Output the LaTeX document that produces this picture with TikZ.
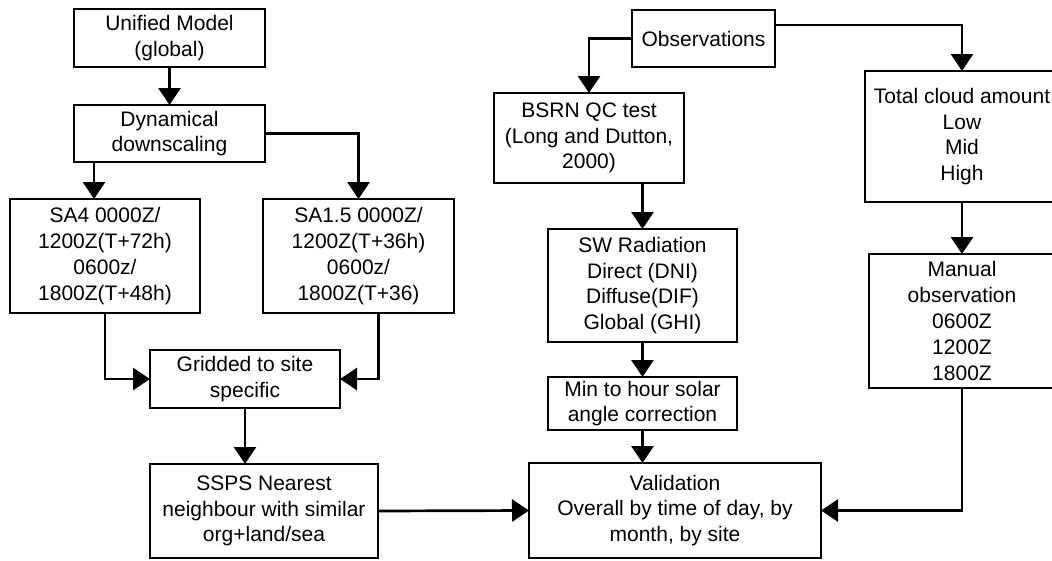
\documentclass[tikz,border=0pt]{standalone}
\usepackage{fontspec}
\setmainfont{Liberation Sans}
\usepackage{tikz}
\usetikzlibrary{arrows.meta, positioning, calc}

\tikzset{
  box/.style={draw, line width=2.7pt, inner sep=0pt, outer sep=0pt, align=center,
    font=\fontsize{21}{25.8}\selectfont},
  arr/.style={line width=2.7pt, -{Triangle[length=17pt,width=22pt]}}
}

\begin{document}
\begin{tikzpicture}[x=1pt, y=-1pt]
\useasboundingbox (0,0) rectangle (1052,560);

% Model chain
\node[box, minimum width=191, minimum height=58] (um) at (169.5,38) {Unified Model\\(global)};
\node[box, minimum width=191, minimum height=57] (dyn) at (169.5,133.5) {Dynamical\\downscaling};
\node[box, minimum width=190, minimum height=114] (sa4) at (105,256) {SA4 0000Z/\\1200Z(T+72h)\\0600z/\\1800Z(T+48h)};
\node[box, minimum width=191, minimum height=114] (sa15) at (358.5,256) {SA1.5 0000Z/\\1200Z(T+36h)\\0600z/\\1800Z(T+36)};
\node[box, minimum width=190, minimum height=58] (grid) at (245,379) {Gridded to site\\specific};
\node[box, minimum width=228, minimum height=94] (ssps) at (264,511) {SSPS Nearest\\neighbour with similar\\org+land/sea};

% Observation chain
\node[box, minimum width=143, minimum height=57] (obs) at (703.5,38.5) {Observations};
\node[box, minimum width=190, minimum height=90] (bsrn) at (589,138) {BSRN QC test\\(Long and Dutton,\\2000)};
\node[box, minimum width=189, minimum height=113] (sw) at (642.5,285.5) {SW Radiation\\Direct (DNI)\\Diffuse(DIF)\\Global (GHI)};
\node[box, minimum width=189, minimum height=53] (minh) at (642.5,403.5) {Min to hour solar\\angle correction};
\node[box, minimum width=292, minimum height=95] (val) at (675,510.5) {Validation\\Overall by time of day, by\\month, by site};
\node[box, minimum width=194, minimum height=131] (cloud) at (962,136.5) {Total cloud amount\\Low\\Mid\\High};
\node[box, minimum width=186, minimum height=134] (man) at (962,321) {Manual\\observation\\0600Z\\1200Z\\1800Z};

% Connectors
\draw[arr] (um) -- (dyn);
\draw[arr] ([xshift=20pt]dyn.south west) -- ([xshift=20pt]dyn.south west |- sa4.north);
\draw[arr] (dyn.east) -| (sa15.north);
\draw[arr] (sa4.south) |- (grid.west);
\draw[arr] ([xshift=20pt]sa15.south) |- (grid.east);
\draw[arr] (grid.south) -- (grid.south |- ssps.north);
\draw[arr] (ssps.east) -- (val.west);

\draw[arr] (obs.west) -| (bsrn.north);
\draw[arr] ([yshift=13.5pt]obs.east) -| (cloud.north);
\draw[arr] (sw.north |- bsrn.south) -- (sw.north);
\draw[arr] (sw) -- (minh);
\draw[arr] (minh.south) -- (minh.south |- val.north);
\draw[arr] (cloud) -- (man);
\draw[arr] (man.south) |- (val.east);
\end{tikzpicture}
\end{document}
